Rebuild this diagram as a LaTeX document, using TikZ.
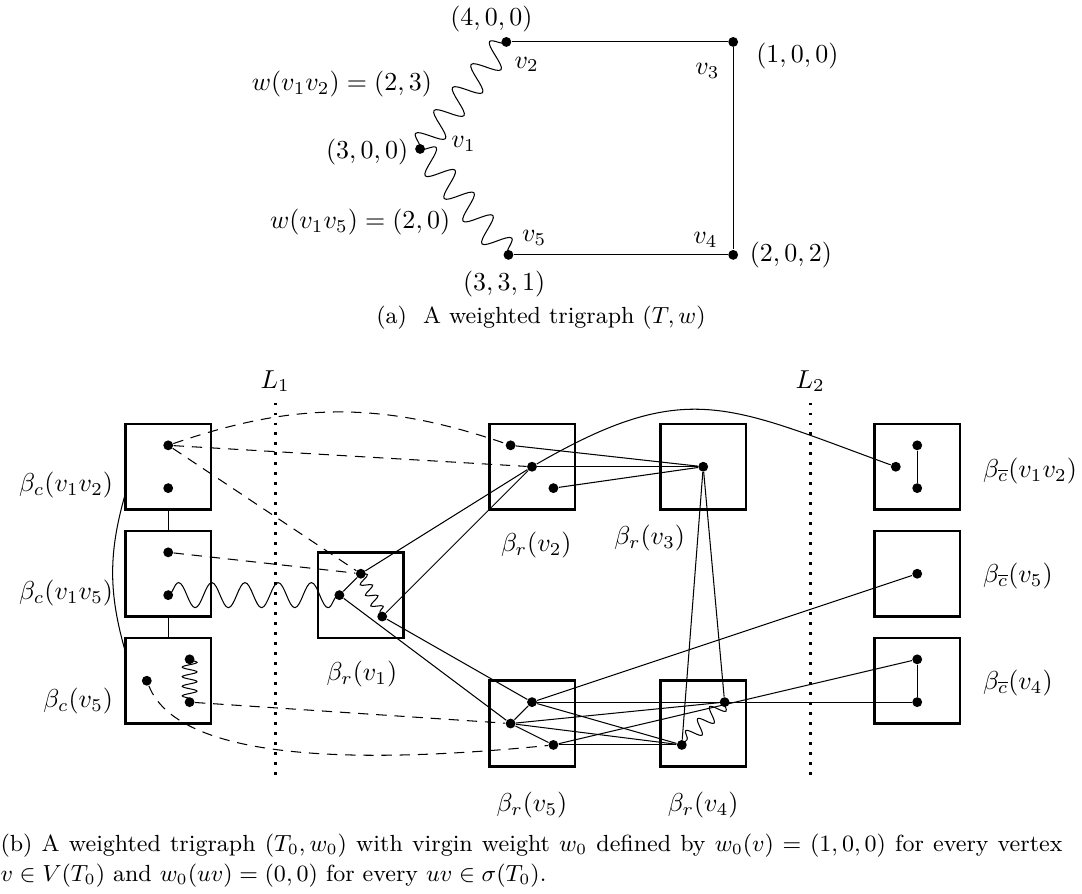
\documentclass[tikz,border=0pt]{standalone}
\usepackage{amsmath}
\usepackage{amssymb}
\usepackage{tikz}
\usetikzlibrary{decorations.pathmorphing,positioning}
\tikzset{
  vtx/.style={circle, fill=black, inner sep=0pt, minimum size=3.8pt},
  bag/.style={draw, line width=1pt, minimum size=1.16cm, inner sep=0pt},
  wavy/.style 2 args={decorate, decoration={snake, amplitude=#1, segment length=#2}},
  dashline/.style={dash pattern=on 4pt off 3pt},
  cutline/.style={line width=1pt, dash pattern=on 1pt off 2.85pt},
}

\begin{document}
\begin{tikzpicture}[x=0.29cm, y=0.29cm]
  \useasboundingbox (0.14,-21.96) rectangle (50.70,19.81);

  % (a) the trigraph T
  \node[vtx] (v1) at (19.77,12.85) {};
  \node[vtx] (v2) at (23.8,17.85) {};
  \node[vtx] (v3) at (34.4,17.85) {};
  \node[vtx] (v4) at (34.4,7.9) {};
  \node[vtx] (v5) at (23.9,7.9) {};
  \draw (v2) -- (v3) -- (v4) -- (v5);
  \draw[wavy={1.8mm}{4mm}] (v1.center) -- (v2.center);
  \draw[wavy={1.8mm}{4mm}] (v1.center) -- (v5.center);

  \node (w1) at (23.1,18.9) {$(4,0,0)$};
  \node (l2) at (24.75,16.8) {$v_2$};
  \node (l3) at (33.2,16.5) {$v_3$};
  \node (w3) at (37.4,17.2) {$(1,0,0)$};
  \node[anchor=east] (e12) at (20.75,15.9) {$w(v_1v_2)=(2,3)$};
  \node (w0) at (17.3,12.72) {$(3,0,0)$};
  \node (l1) at (21.8,13.1) {$v_1$};
  \node[anchor=east] (e15) at (21.6,9.45) {$w(v_1v_5)=(2,0)$};
  \node (l5) at (25.1,8.7) {$v_5$};
  \node (l4) at (33.1,8.6) {$v_4$};
  \node (w4) at (37.1,7.9) {$(2,0,2)$};
  \node (w5) at (23.7,6.55) {$(3,3,1)$};
  \node (capa) at (25.42,4.95) {\small (a)~~A weighted trigraph $(T,w)$};

  % (b) bags
  \node[bag] (bc12) at (8,-2) {};
  \node[bag] (bc15) at (8,-7) {};
  \node[bag] (bc5)  at (8,-12) {};
  \node[bag] (br1)  at (17,-8) {};
  \node[bag] (br2)  at (25,-2) {};
  \node[bag] (br3)  at (33,-2) {};
  \node[bag] (br5)  at (25,-14) {};
  \node[bag] (br4)  at (33,-14) {};
  \node[bag] (bk12) at (43,-2) {};
  \node[bag] (bk5)  at (43,-7) {};
  \node[bag] (bk4)  at (43,-12) {};

  \node[anchor=east] at (5.85,-2.85) {$\beta_c(v_1v_2)$};
  \node[anchor=east] at (5.85,-7.9) {$\beta_c(v_1v_5)$};
  \node[anchor=east] at (5.85,-12.95) {$\beta_c(v_5)$};
  \node at (17.05,-11.7) {$\beta_r(v_1)$};
  \node at (25.2,-5.65) {$\beta_r(v_2)$};
  \node at (30.5,-5.35) {$\beta_r(v_3)$};
  \node at (25,-17.8) {$\beta_r(v_5)$};
  \node at (33,-17.8) {$\beta_r(v_4)$};
  \node[anchor=west] at (45.65,-2.2) {$\beta_{\overline{c}}(v_1v_2)$};
  \node[anchor=west] at (45.65,-7.1) {$\beta_{\overline{c}}(v_5)$};
  \node[anchor=west] at (45.65,-12.1) {$\beta_{\overline{c}}(v_4)$};

  % the cuts
  \node (L1) at (13,2) {$L_1$};
  \node (L2) at (38,2) {$L_2$};
  \draw[cutline] (13,1) -- (13,-16.5);
  \draw[cutline] (38,1) -- (38,-16.5);

  % vertices inside the bags
  \node[vtx] (c12a) at (8,-1) {};
  \node[vtx] (c12b) at (8,-3) {};
  \node[vtx] (c15a) at (8,-6) {};
  \node[vtx] (c15b) at (8,-8) {};
  \node[vtx] (c5a) at (7,-12) {};
  \node[vtx] (c5b) at (9,-11) {};
  \node[vtx] (c5c) at (9,-13) {};
  \node[vtx] (r1a) at (16,-8) {};
  \node[vtx] (r1b) at (17,-7) {};
  \node[vtx] (r1c) at (18,-9) {};
  \node[vtx] (r2a) at (24,-1) {};
  \node[vtx] (r2b) at (25,-2) {};
  \node[vtx] (r2c) at (26,-3) {};
  \node[vtx] (r3a) at (33,-2) {};
  \node[vtx] (r5a) at (25,-13) {};
  \node[vtx] (r5b) at (24,-14) {};
  \node[vtx] (r5c) at (26,-15) {};
  \node[vtx] (r4a) at (34,-13) {};
  \node[vtx] (r4b) at (32,-15) {};
  \node[vtx] (k12a) at (42,-2) {};
  \node[vtx] (k12b) at (43,-1) {};
  \node[vtx] (k12c) at (43,-3) {};
  \node[vtx] (k5a) at (43,-7) {};
  \node[vtx] (k4a) at (43,-11) {};
  \node[vtx] (k4b) at (43,-13) {};

  % bag links
  \draw (bc12.south) -- (bc15.north);
  \draw (bc15.south) -- (bc5.north);
  \coordinate (lc1) at (6,-3.25);
  \coordinate (lc2) at (6,-10.65);
  \draw (lc1) to[bend right=16] (lc2);

  % dashed edges
  \draw[dashline] (c12a) to[bend left=19] (r2a);
  \draw[dashline] (c12a) -- (r2b);
  \draw[dashline] (c12a) -- (r1b);
  \draw[dashline] (c15a) -- (r1b);
  \draw[dashline] (c5c) -- (r5b);
  \draw[dashline] (c5a) .. controls (8.6,-16) and (18,-15.8) .. (r5c);

  % wavy edges
  \draw[wavy={1mm}{1.3mm}] (c5b.center) -- (c5c.center);
  \draw[wavy={1.7mm}{4.5mm}] (c15b.center) -- (r1a.center);
  \draw[wavy={0.75mm}{1.6mm}] (r1b.center) -- (r1c.center);
  \draw[wavy={1mm}{2.3mm}] (r4a.center) -- (r4b.center);

  % solid edges
  \draw (r1a) -- (r1b);
  \draw (r1b) -- (r2b);
  \draw (r1c) -- (r2b);
  \draw (r1a) -- (r5b);
  \draw (r1c) -- (r5a);
  \draw (r2a) -- (r3a);
  \draw (r2b) -- (r3a);
  \draw (r2c) -- (r3a);
  \draw (r2b) to[out=30, in=160, looseness=1.25] (k12a);
  \draw (r3a) -- (r4a);
  \draw (r3a) -- (r4b);
  \draw (r5a) -- (r5b);
  \draw (r5b) -- (r5c);
  \draw (r5a) -- (k5a);
  \draw (r5a) -- (k4b);
  \draw (r5a) -- (r4b);
  \draw (r5b) -- (r4a);
  \draw (r5b) -- (r4b);
  \draw (r5c) -- (k4a);
  \draw (r5c) -- (r4b);
  \draw (k12b) -- (k12c);
  \draw (k4a) -- (k4b);

  % caption
  \node[anchor=base west, inner sep=0pt, text width=14.39cm, align=justify,
        font=\fontsize{9}{11.5}\selectfont] (capb) at (0.14,-20.0)
    {(b) A weighted trigraph $(T_0,w_0)$ with virgin weight $w_0$ defined by $w_0(v)=(1,0,0)$ for every vertex\linebreak
     $v\in V(T_0)$ and $w_0(uv)=(0,0)$ for every $uv\in\sigma(T_0)$.};
\end{tikzpicture}
\end{document}
